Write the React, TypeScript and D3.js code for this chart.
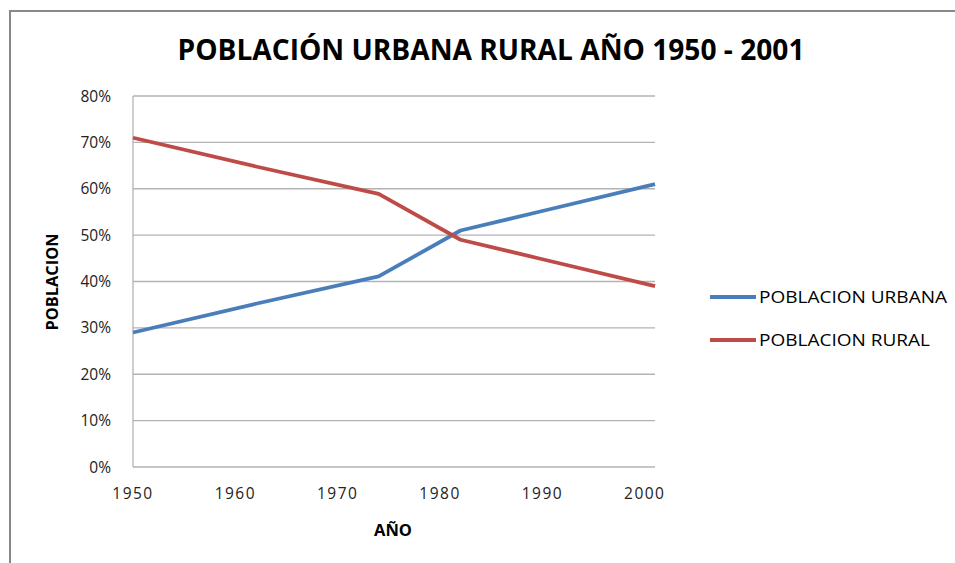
import React from "react";
import * as d3 from "d3";

const years = [1950, 1962, 1974, 1982, 1990, 2001];
const urbana = [29, 35.2, 41.1, 51, 55.2, 61];
const rural = [71, 64.8, 58.9, 49, 44.8, 39];
const xTicks = [1950, 1960, 1970, 1980, 1990, 2000];
const yTicks = [0, 10, 20, 30, 40, 50, 60, 70, 80];
const seriesNames = ["POBLACION URBANA", "POBLACION RURAL"];
const colors = ["#4a7ebb", "#be4b48"];

export default function App() {
  const W = 955, H = 563;
  const left = 133, right = 655, top = 96, bottom = 467;
  const x = d3.scaleLinear().domain([1950, 2001]).range([left, right]);
  const y = d3.scaleLinear().domain([0, 80]).range([bottom, top]);
  const line = d3.line<number>().x((_, i) => x(years[i])).y((d) => y(d));
  const font = "'Open Sans', 'Noto Sans', sans-serif";
  const series = [urbana, rural];
  const legendLen = [188, 171];
  return (
    <svg width={W} height={H} style={{ position: "absolute", left: 0, top: 0 }}>
      <rect x={0} y={0} width={W} height={H} fill="#fff" />
      <path d={`M10,${H} L10,11 L${W},11`} fill="none" stroke="#888" strokeWidth={2} />
      <text x={491} y={60} textAnchor="middle" fontFamily={font} fontWeight="bold" fontSize={28} textLength={627} lengthAdjust="spacingAndGlyphs" fill="#000">
        POBLACIÓN URBANA RURAL AÑO 1950 - 2001
      </text>
      {yTicks.map((t) => (
        <g key={t}>
          {t > 0 && <line x1={left} x2={right} y1={y(t)} y2={y(t)} stroke="#b3b3b3" strokeWidth={1.3} />}
          <text x={111} y={y(t) + 5.5} textAnchor="end" fontFamily={font} fontSize={15.5} fill="#222">{t}%</text>
        </g>
      ))}
      <line x1={left} x2={left} y1={top} y2={bottom} stroke="#b3b3b3" strokeWidth={1.3} />
      <line x1={left} x2={right} y1={bottom} y2={bottom} stroke="#b3b3b3" strokeWidth={1.3} />
      {xTicks.map((t) => (
        <text key={t} x={x(t)} y={499} textAnchor="middle" fontFamily={font} fontSize={15.5} letterSpacing={1.5} fill="#222">{t}</text>
      ))}
      <text x={393} y={536} textAnchor="middle" fontFamily={font} fontWeight="bold" fontSize={16.5} fill="#000">AÑO</text>
      <text transform="translate(58,282) rotate(-90)" textAnchor="middle" fontFamily={font} fontWeight="bold" fontSize={16} textLength={97} lengthAdjust="spacingAndGlyphs" fill="#000">POBLACION</text>
      {series.map((s, i) => (
        <path key={i} d={line(s) || ""} fill="none" stroke={colors[i]} strokeWidth={3.8} strokeLinejoin="round" />
      ))}
      {seriesNames.map((n, i) => (
        <g key={n}>
          <line x1={710} x2={756} y1={297 + i * 43} y2={297 + i * 43} stroke={colors[i]} strokeWidth={3.8} />
          <text x={759} y={303 + i * 43} fontFamily={font} fontSize={16} textLength={legendLen[i]} lengthAdjust="spacingAndGlyphs" fill="#000">{n}</text>
        </g>
      ))}
    </svg>
  );
}
